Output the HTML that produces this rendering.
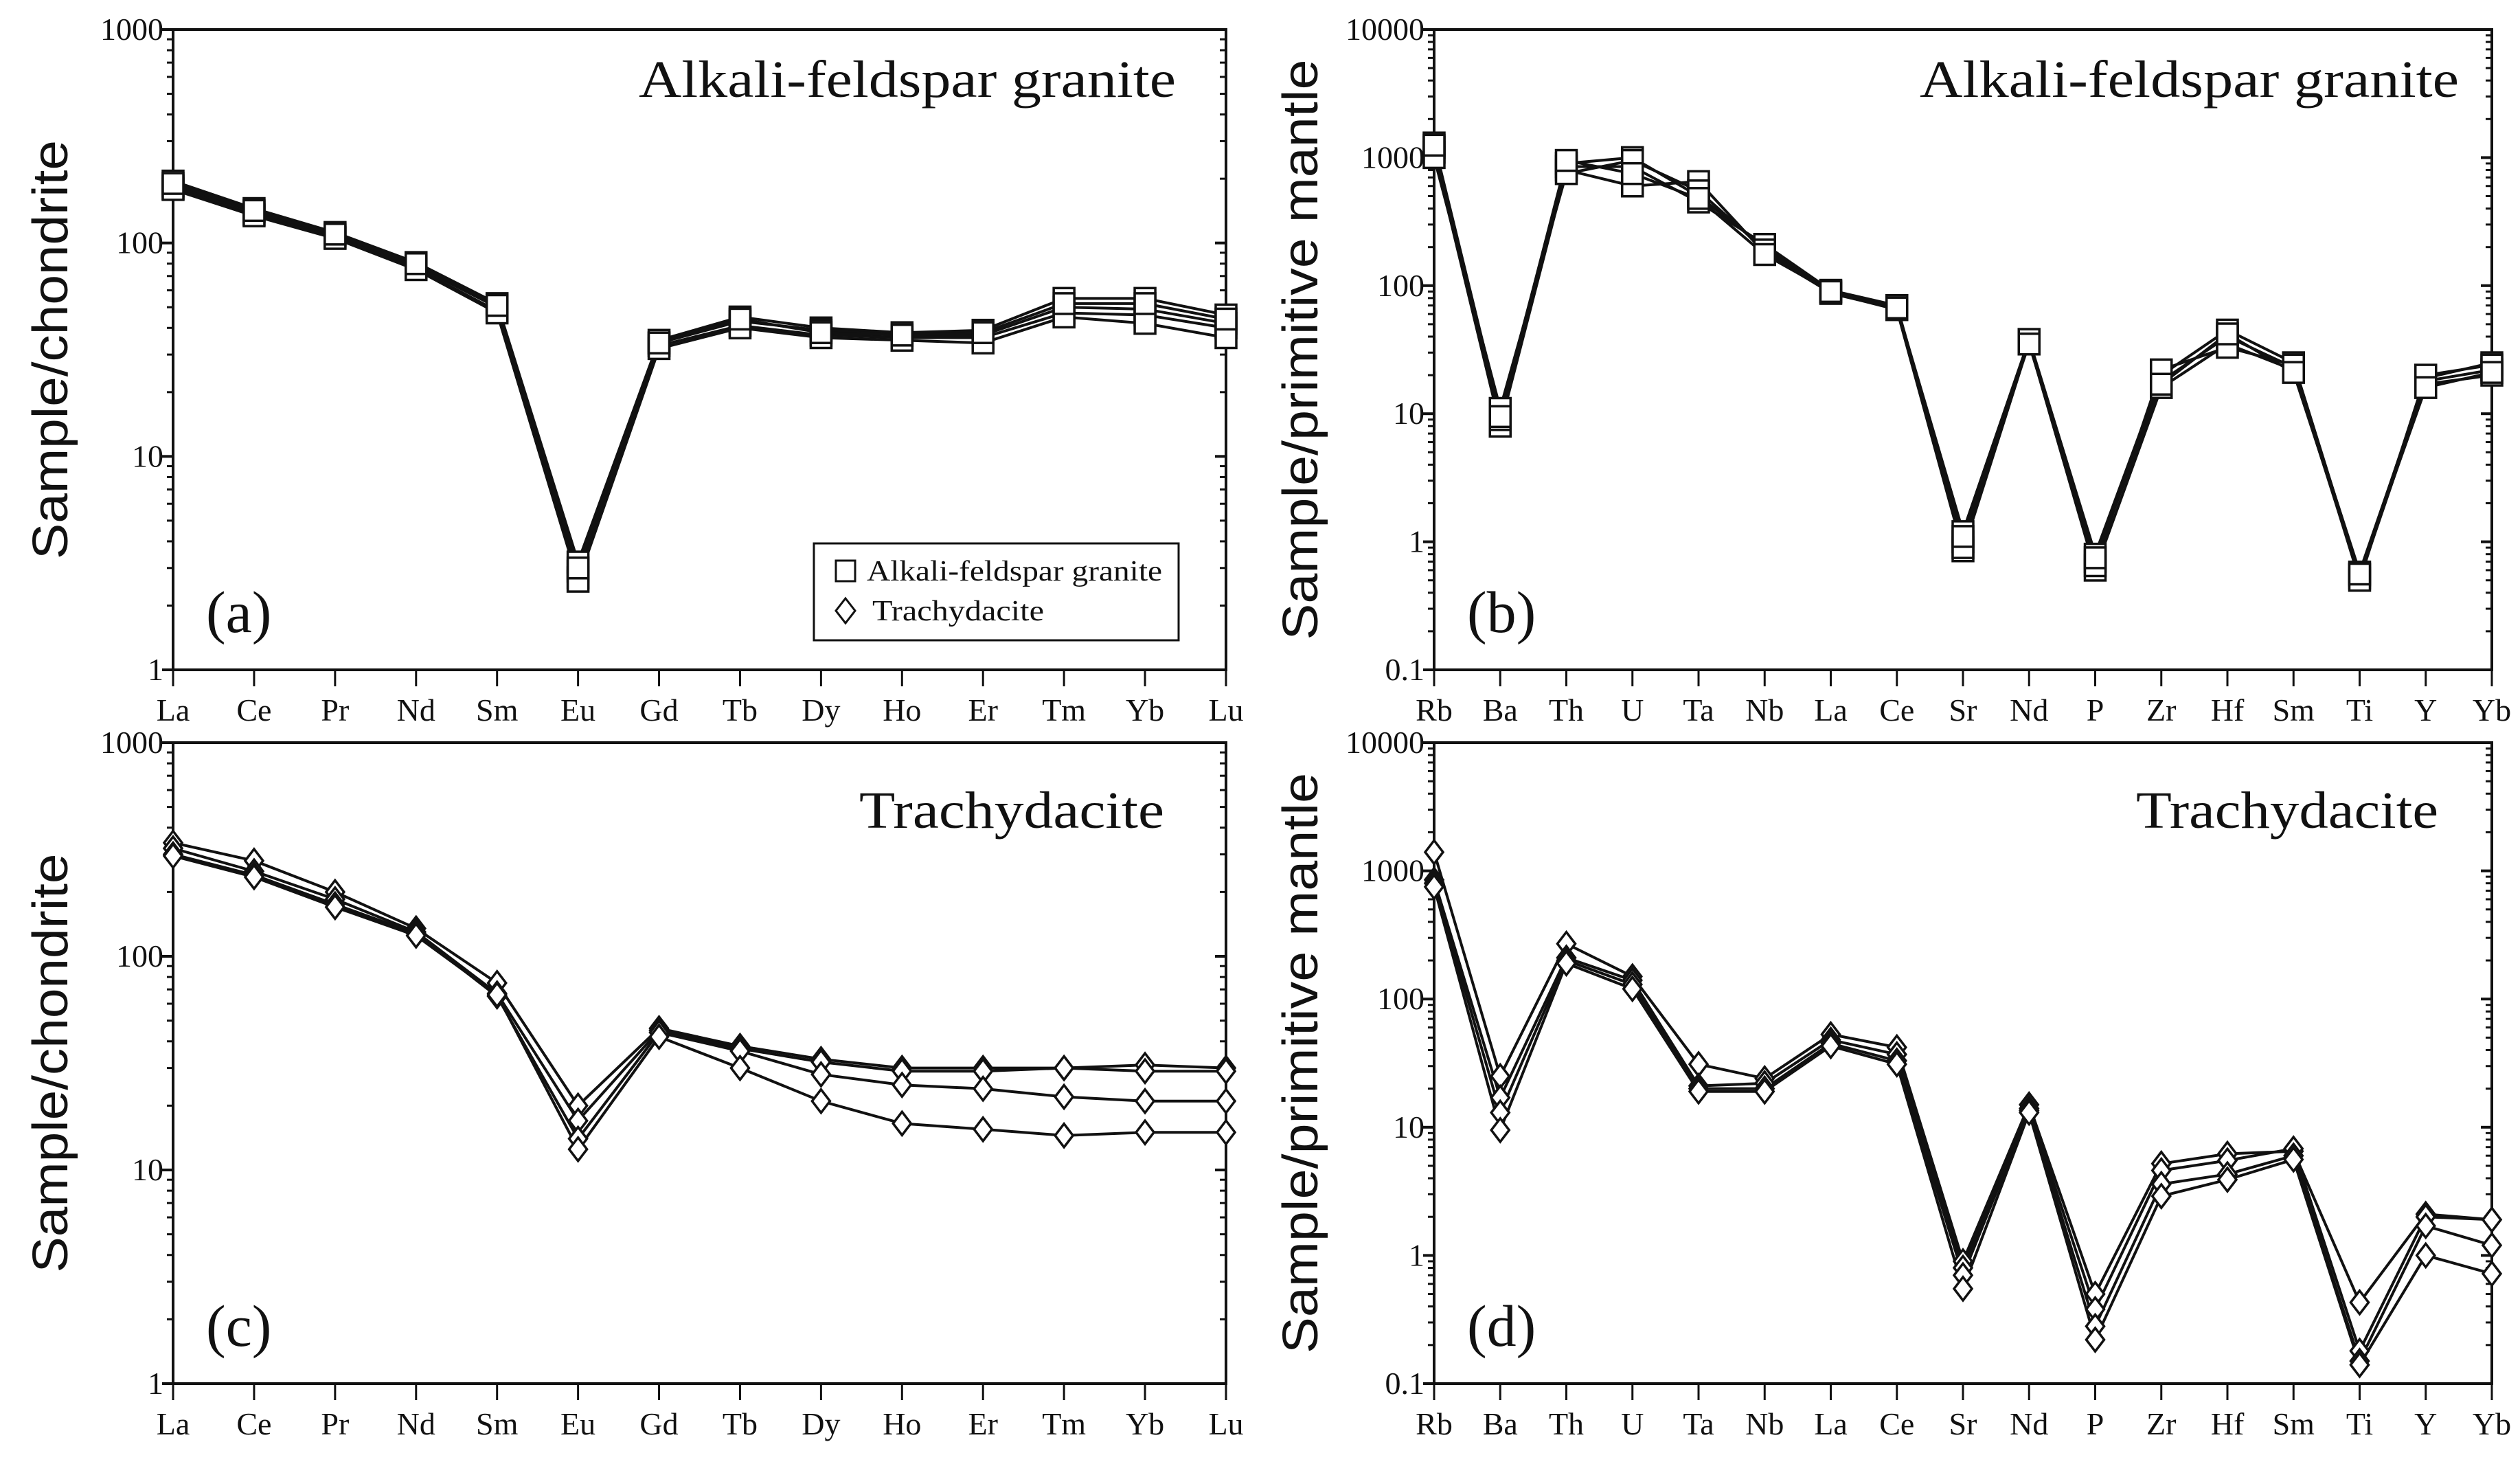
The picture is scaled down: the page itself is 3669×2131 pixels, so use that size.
<!DOCTYPE html>
<html><head><meta charset="utf-8"><style>
html,body{margin:0;padding:0;background:#fff;}
svg{display:block;}
</style></head><body>
<svg id="fig" width="3669" height="2131" viewBox="0 0 3669 2131" xmlns="http://www.w3.org/2000/svg"></svg>
<script>
const reeCategories = ["La","Ce","Pr","Nd","Sm","Eu","Gd","Tb","Dy","Ho","Er","Tm","Yb","Lu"];
const spiderCategories = ["Rb","Ba","Th","U","Ta","Nb","La","Ce","Sr","Nd","P","Zr","Hf","Sm","Ti","Y","Yb"];
const reeTicks = [1,10,100,1000];
const reeTickLabels = ["1","10","100","1000"];
const spiderTicks = [0.1,1,10,100,1000,10000];
const spiderTickLabels = ["0.1","1","10","100","1000","10000"];

const graniteREE1 = [195,145,112,81,52,3.2,35,45,40,38,39,55,55,46];
const graniteREE2 = [185,140,108,78,50,2.9,34,43,39,37,37,50,49,42];
const graniteREE3 = [180,136,106,76,48,2.7,33,41,37,36,36,47,46,40];
const graniteREE4 = [178,134,105,75,47,2.6,32,40,36,35,34,45,42,36];
const graniteREE5 = [190,142,110,80,51,3.0,34,44,38,37,38,52,52,44];

const graniteSp1 = [1300,10,900,1000,500,200,90,68,1.2,38,0.8,20,45,25,0.55,19,25];
const graniteSp2 = [1100,8,800,600,650,180,88,65,0.85,36,0.6,16,35,22,0.52,17,20];
const graniteSp3 = [1200,9,850,850,450,210,92,70,1.0,37,0.7,18,40,23,0.58,18,22];
const graniteSp4 = [1000,11,750,950,550,190,87,66,0.9,38,0.65,22,33,24,0.5,20,24];
const graniteSp5 = [1250,9.5,950,750,480,175,90,67,1.1,35,0.75,17,42,21,0.56,16,21];

const trachyREE1 = [340,280,200,135,75,20,46,38,33,30,30,30,31,30];
const trachyREE2 = [320,250,185,130,67,17,45,37,32,29,29,30,29,29];
const trachyREE3 = [300,240,175,128,65,14,44,36,28,25,24,22,21,21];
const trachyREE4 = [295,235,170,125,66,12.5,42,30,21,16.5,15.5,14.5,15,15];

const trachySp1 = [1400,25,270,150,31,24,53,42,0.9,15,0.5,5.2,6.2,6.5,0.43,2.1,1.9];
const trachySp2 = [850,17,210,140,21,22,48,37,0.8,14,0.38,4.6,5.5,6.8,0.18,2.0,1.9];
const trachySp3 = [800,13,200,130,20,20,45,33,0.7,13.5,0.28,3.6,4.3,6.0,0.15,1.7,1.2];
const trachySp4 = [750,9.5,190,120,19,19,43,31,0.55,13,0.22,2.9,3.9,5.6,0.14,1.0,0.72];

const NS="http://www.w3.org/2000/svg";
const svg=document.getElementById('fig');
function mk(tag,attrs,parent){const e=document.createElementNS(NS,tag);for(const k in attrs)e.setAttribute(k,attrs[k]);(parent||svg).appendChild(e);return e;}

function panel(o){
  const g=mk('g',{});
  
  
  const lmin=Math.log10(o.ymin), lmax=Math.log10(o.ymax);
  const yS=v=>o.y1-(Math.log10(v)-lmin)/(lmax-lmin)*(o.y1-o.y0);
  const n=o.cats.length;
  const xS=i=>o.x0+i*(o.x1-o.x0)/(n-1);
  const fr=mk('rect',{x:o.x0,y:o.y0,width:o.x1-o.x0,height:o.y1-o.y0,fill:'none',stroke:'#111','stroke-width':4},g);
  
  
  for(let d=lmin; d<=lmax; d++){
    const v=Math.pow(10,d);
    mk('line',{x1:o.x0-16,x2:o.x0,y1:yS(v),y2:yS(v),stroke:'#111','stroke-width':4},g);
    mk('line',{x1:o.x1-16,x2:o.x1,y1:yS(v),y2:yS(v),stroke:'#111','stroke-width':4},g);
    if(d<lmax){for(let m=2;m<10;m++){const yy=yS(m*v);
      mk('line',{x1:o.x0-9,x2:o.x0,y1:yy,y2:yy,stroke:'#111','stroke-width':3},g);
      mk('line',{x1:o.x1-9,x2:o.x1,y1:yy,y2:yy,stroke:'#111','stroke-width':3},g);}}
  }
  o.ticks.forEach((v,i)=>{
    const t=mk('text',{x:o.x0-14,y:yS(v)+15,'text-anchor':'end','font-family':'Liberation Serif, serif','font-size':46,fill:'#111'},g);
    t.textContent=o.tickLabels[i];
    
    
  });
  o.cats.forEach((c,i)=>{
    mk('line',{x1:xS(i),x2:xS(i),y1:o.y1,y2:o.y1+24,stroke:'#111','stroke-width':3},g);
    const t=mk('text',{x:xS(i),y:o.y1+74,'text-anchor':'middle','font-family':'Liberation Serif, serif','font-size':46,fill:'#111'},g);
    t.textContent=c;
    
    
  });
  const yc=(o.y0+o.y1)/2;
  const yt=mk('text',{x:0,y:0,transform:`translate(${o.ylx},${yc}) rotate(-90)`,'text-anchor':'middle','font-family':'Liberation Sans, sans-serif','font-size':72,fill:'#111',textLength:o.ylLen,lengthAdjust:'spacingAndGlyphs'},g);
  yt.textContent=o.ylabel;
  
  
  const tt=mk('text',{x:o.tx,y:o.ty,'font-family':'Liberation Serif, serif','font-size':76,fill:'#111',textLength:o.tLen,lengthAdjust:'spacingAndGlyphs'},g);
  tt.textContent=o.title;
  
  
  const pl=mk('text',{x:o.x0+48,y:o.y1-55,'font-family':'Liberation Serif, serif','font-size':86,fill:'#111'},g);
  pl.textContent=o.plabel;
  
  
  o.series.forEach((s,si)=>{
    const pts=s.map((v,i)=>xS(i)+','+yS(v)).join(' ');
    const ln=mk('polyline',{points:pts,fill:'none',stroke:'#111','stroke-width':4,'stroke-linejoin':'round'},g);
    
    
  });
  o.series.forEach((s,si)=>{
    s.forEach((v,i)=>{
      const cx=xS(i), cy=yS(v);
      let m;
      if(o.marker==='square'){m=mk('rect',{x:cx-15,y:cy-15,width:30,height:30,fill:'#fff',stroke:'#111','stroke-width':3.5},g);}
      else{m=mk('polygon',{points:`${cx},${cy-17} ${cx+13},${cy} ${cx},${cy+17} ${cx-13},${cy}`,fill:'#fff',stroke:'#111','stroke-width':3.5},g);}
      
      
    });
  });
  return g;
}

panel({name:'panel-a-ree-granite',x0:252,x1:1785,y0:43,y1:975,ymin:1,ymax:1000,cats:reeCategories,ticks:reeTicks,tickLabels:reeTickLabels,
  ylabel:'Sample/chondrite',ylx:98,ylLen:610,title:'Alkali-feldspar granite',tx:930,ty:141,tLen:782,plabel:'(a)',marker:'square',
  series:[graniteREE1,graniteREE2,graniteREE3,graniteREE4,graniteREE5]});
panel({name:'panel-b-spider-granite',x0:2088,x1:3628,y0:43,y1:975,ymin:0.1,ymax:10000,cats:spiderCategories,ticks:spiderTicks,tickLabels:spiderTickLabels,
  ylabel:'Sample/primitive mantle',ylx:1918,ylLen:845,title:'Alkali-feldspar granite',tx:2795,ty:141,tLen:785,plabel:'(b)',marker:'square',
  series:[graniteSp1,graniteSp2,graniteSp3,graniteSp4,graniteSp5]});
panel({name:'panel-c-ree-trachydacite',x0:252,x1:1785,y0:1081,y1:2014,ymin:1,ymax:1000,cats:reeCategories,ticks:reeTicks,tickLabels:reeTickLabels,
  ylabel:'Sample/chondrite',ylx:98,ylLen:610,title:'Trachydacite',tx:1251,ty:1205,tLen:444,plabel:'(c)',marker:'diamond',
  series:[trachyREE1,trachyREE2,trachyREE3,trachyREE4]});
panel({name:'panel-d-spider-trachydacite',x0:2088,x1:3628,y0:1081,y1:2014,ymin:0.1,ymax:10000,cats:spiderCategories,ticks:spiderTicks,tickLabels:spiderTickLabels,
  ylabel:'Sample/primitive mantle',ylx:1918,ylLen:845,title:'Trachydacite',tx:3110,ty:1205,tLen:440,plabel:'(d)',marker:'diamond',
  series:[trachySp1,trachySp2,trachySp3,trachySp4]});

const lg=mk('g',{});


mk('rect',{x:1185,y:791,width:531,height:141,fill:'#fff',stroke:'#111','stroke-width':3},lg);
mk('rect',{x:1217,y:816,width:28,height:30,fill:'#fff',stroke:'#111','stroke-width':3},lg);
mk('polygon',{points:'1231,871 1245,889 1231,907 1217,889',fill:'#fff',stroke:'#111','stroke-width':3},lg);
const l1=mk('text',{x:1262,y:845,'font-family':'Liberation Serif, serif','font-size':42,fill:'#111',textLength:430,lengthAdjust:'spacingAndGlyphs'},lg);
l1.textContent='Alkali-feldspar granite';


const l2=mk('text',{x:1270,y:903,'font-family':'Liberation Serif, serif','font-size':42,fill:'#111',textLength:250,lengthAdjust:'spacingAndGlyphs'},lg);
l2.textContent='Trachydacite';


</script>
</body></html>
